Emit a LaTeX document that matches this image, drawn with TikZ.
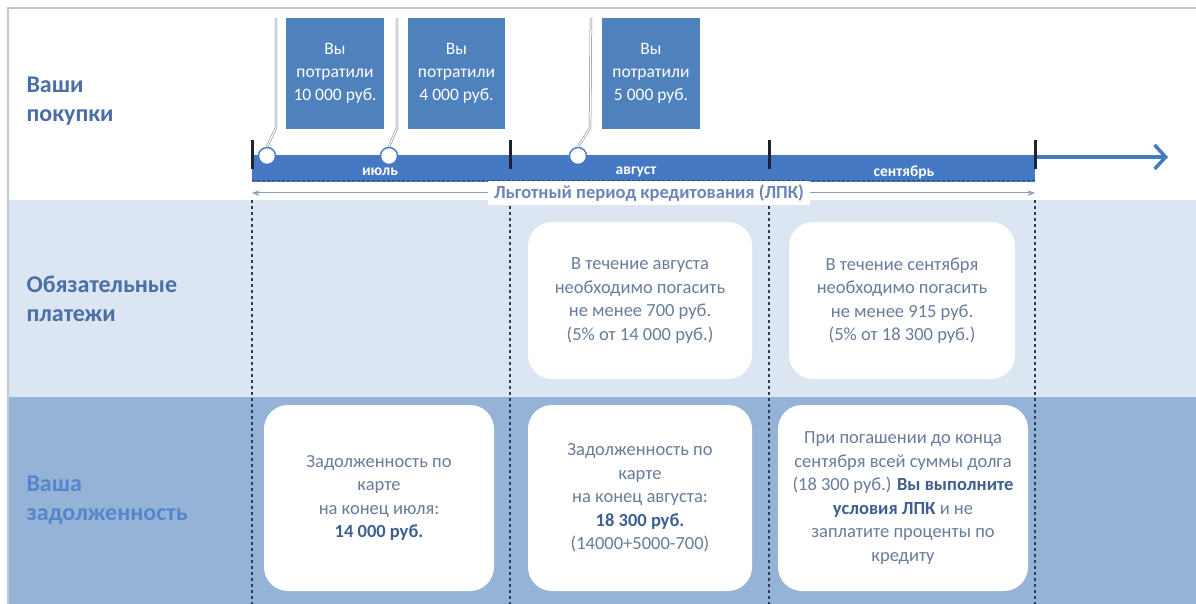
\documentclass[tikz,border=0pt]{standalone}
\usepackage{fontspec}
\setmainfont{Carlito}
\usetikzlibrary{arrows.meta}
\definecolor{bandlight}{HTML}{DCE6F2}
\definecolor{banddark}{HTML}{95B3D7}
\definecolor{boxblue}{HTML}{4F81BD}
\definecolor{barblue}{HTML}{4679C4}
\definecolor{labelblue}{HTML}{4B6EA6}
\definecolor{debtblue}{HTML}{5586CC}
\definecolor{notegray}{HTML}{687C9C}
\definecolor{notebold}{HTML}{3F5F90}
\definecolor{periodblue}{HTML}{6A86B4}
\definecolor{tickblack}{HTML}{1C2333}
\tikzset{
  rowlabel/.style={anchor=west,align=left,font=\fontsize{24}{29}\selectfont\bfseries},
  spentbox/.style={fill=boxblue,text=white,align=center,inner sep=0pt,
    minimum height=111pt,font=\fontsize{17.5}{23}\selectfont},
  notebox/.style={fill=white,rounded corners=24pt,align=center,inner sep=0pt,
    text=notegray,font=\fontsize{18.5}{23.5}\selectfont},
  buymark/.style={circle,draw=barblue,fill=white,line width=1.4pt,
    minimum size=17pt,inner sep=0pt},
  monthlabel/.style={text=white,font=\fontsize{15.5}{15.5}\selectfont\bfseries},
  leader/.style={draw=gray!60!boxblue,line width=0.5pt,double=white,double distance=1.3pt},
  guide/.style={draw=tickblack!70!boxblue,line width=1.3pt,dash pattern=on 3pt off 3pt},
}
\begin{document}
\begin{tikzpicture}[x=1pt,y=-1pt,>=Stealth]
\useasboundingbox (0,0) rectangle (1196,604);
\fill[white] (0,0) rectangle (1196,604);
% rows
\fill[bandlight] (8,200) rectangle (1196,397);
\fill[banddark] (8,397) rectangle (1196,604);
\draw[gray!30!bandlight,line width=1.5pt] (8,604) -- (8,8) -- (1196,8);
\node[rowlabel,text=labelblue] (rbuy) at (23,101) {Ваши\\покупки};
\node[rowlabel,text=labelblue] (rpay) at (23,299) {Обязательные\\платежи};
\node[rowlabel,text=debtblue] (rdebt) at (23,500) {Ваша\\задолженность};
% month borders
\foreach \x in {252,510,769,1035}
  \draw[guide] (\x,200) -- (\x,604);
% time axis
\fill[barblue] (252,157) rectangle (1035,182);
\draw[barblue!60!black,line width=1pt,dash pattern=on 3pt off 2pt] (252,181) -- (1035,181);
\draw[barblue,line width=3.5pt,-{Straight Barb[length=11pt,width=24pt]}] (252,157) -- (1168,157);
\foreach \x in {252,510,769,1035}
  \draw[tickblack,line width=3pt] (\x,140) -- (\x,169);
\node[monthlabel] (jul) at (380,172) {июль};
\node[monthlabel] (aug) at (636,172) {август};
\node[monthlabel] (sep) at (904,172) {сентябрь};
% grace period
\node[text=periodblue,font=\fontsize{18.5}{18.5}\selectfont\bfseries,fill=white,inner xsep=6pt] (lpk) at (649,193) {Льготный период кредитования (ЛПК)};
\coordinate (lpkstart) at (252,193);
\coordinate (lpkend) at (1035,193);
\draw[periodblue!80,line width=1pt,->] (lpk.west) -- (lpkstart);
\draw[periodblue!80,line width=1pt,->] (lpk.east) -- (lpkend);
% purchases
\node[spentbox,minimum width=98pt] (s1) at (335,73.5) {Вы\\потратили\\10 000 руб.};
\node[spentbox,minimum width=97pt] (s2) at (456.5,73.5) {Вы\\потратили\\4 000 руб.};
\node[spentbox,minimum width=98pt] (s3) at (651,73.5) {Вы\\потратили\\5 000 руб.};
\node[buymark] (c1) at (267,156) {};
\node[buymark] (c2) at (389,156) {};
\node[buymark] (c3) at (578,156) {};
\draw[leader] (c1.north) -- (276,128) -- (276,18);
\draw[leader] (c2.north) -- (397,128) -- (397,18);
\draw[leader] (c3.north) -- (590,128) -- (591,18);
% payments
\node[notebox,minimum width=224pt,minimum height=157pt] (payaug) at (640,300.5)
  {В течение августа\\необходимо погасить\\не менее 700 руб.\\(5\% от 14 000 руб.)};
\node[notebox,minimum width=226pt,minimum height=157pt] (paysep) at (902,300.5)
  {В течение сентября\\необходимо погасить\\не менее 915 руб.\\(5\% от 18 300 руб.)};
% debt
\node[notebox,minimum width=230pt,minimum height=186pt] (debtjul) at (379,498)
  {Задолженность по\\карте\\на конец июля:\\\textcolor{notebold}{\bfseries 14 000 руб.}};
\node[notebox,minimum width=224pt,minimum height=186pt] (debtaug) at (640,498)
  {Задолженность по\\карте\\на конец августа:\\\textcolor{notebold}{\bfseries 18 300 руб.}\\(14000+5000-700)};
\node[notebox,minimum width=250pt,minimum height=186pt] (debtsep) at (903,498)
  {При погашении до конца\\сентября всей суммы долга\\(18 300 руб.) \textcolor{notebold}{\bfseries Вы выполните}\\\textcolor{notebold}{\bfseries условия ЛПК} и не\\заплатите проценты по\\кредиту};
\end{tikzpicture}
\end{document}
